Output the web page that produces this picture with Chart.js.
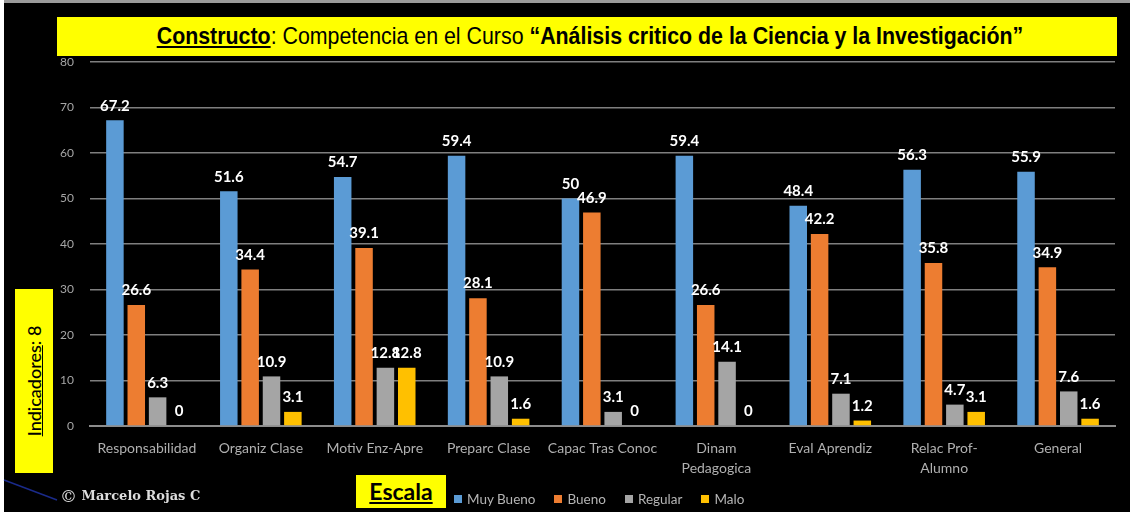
<!DOCTYPE html>
<html lang="es">
<head>
  <meta charset="UTF-8" />
  <title>Competencia en el Curso</title>
  <script src="https://cdn.jsdelivr.net/npm/chart.js"></script>
  <style>
    html, body { margin: 0; padding: 0; background: #000; }
    body { width: 1130px; height: 512px; position: relative; overflow: hidden; }
    #frameTop { position: absolute; left: 0; top: 0; width: 1130px; height: 3px; background: #9a9a9a; }
    #frameLeft { position: absolute; left: 0; top: 0; width: 4px; height: 512px; background: #fff; }
    #chartBox { position: absolute; left: 0; top: 0; width: 1130px; height: 512px; }
    .yellow { position: absolute; background: #ffff00; color: #000; }
    #titulo { left: 57px; top: 17px; width: 1060px; height: 39px; }
    #titulo span {
      position: absolute; left: 533px; top: 19px; white-space: nowrap;
      transform: translate(-50%, -50%) scaleX(0.89);
      font-family: 'Liberation Sans', Arial, sans-serif; font-size: 24px;
    }
    #titulo b.u { text-decoration: underline; }
    #indicadores { left: 15px; top: 289px; width: 38px; height: 184px; }
    #indicadores span {
      position: absolute; left: 19px; top: 92px; white-space: nowrap;
      transform: translate(-50%, -50%) rotate(-90deg);
      font-family: Lato, 'Open Sans', sans-serif; font-size: 18px; font-weight: 500;
    }
    #escala {
      left: 356px; top: 475px; width: 90px; height: 33px;
      font-family: Lato, 'Open Sans', sans-serif; font-weight: bold; font-size: 23px;
      text-align: center; line-height: 33px; text-decoration: underline;
    }
    #autor {
      position: absolute; left: 60px; top: 486px; color: #ddd;
      font-family: 'DejaVu Serif', 'Liberation Serif', serif; font-weight: bold; font-size: 13px;
    }
    #autor .c { font-size: 17px; font-weight: normal; vertical-align: -2px; }
    #leyenda {
      position: absolute; left: 454px; top: 491px; display: flex; gap: 19px;
      font-family: Lato, 'Open Sans', sans-serif; font-size: 13.5px; color: #b5b5b5;
    }
    #leyenda div { display: flex; align-items: center; }
    #leyenda i { display: inline-block; width: 8px; height: 8px; margin-right: 5px; }
    #raya { position: absolute; left: 0; top: 0; }
  </style>
</head>
<body>
  <div id="frameTop"></div>
  <div id="frameLeft"></div>
  <div id="chartBox"><canvas id="grafico" width="1130" height="512"></canvas></div>
  <div class="yellow" id="titulo"><span><b class="u">Constructo</b>: Competencia en el Curso <b>“Análisis critico de la Ciencia y la Investigación”</b></span></div>
  <div class="yellow" id="indicadores"><span><u>Indicadores</u>: 8</span></div>
  <div class="yellow" id="escala">Escala</div>
  <div id="autor"><span class="c">©</span> Marcelo Rojas C</div>
  <div id="leyenda"></div>
  <svg id="raya" width="70" height="512"><line x1="4" y1="480" x2="57" y2="500" stroke="#1a2a8a" stroke-width="1.5" /></svg>

  <script>
    const indicadores = ['Responsabilidad', 'Organiz Clase', 'Motiv Enz-Apre', 'Preparc Clase', 'Capac Tras Conoc',
      ['Dinam', 'Pedagogica'], 'Eval Aprendiz', ['Relac Prof-', 'Alumno'], 'General'];
    const escalas = ['Muy Bueno', 'Bueno', 'Regular', 'Malo'];
    const colores = ['#5b9bd5', '#ed7d31', '#a5a5a5', '#ffc000'];

    const muyBueno = [67.2, 51.6, 54.7, 59.4, 50, 59.4, 48.4, 56.3, 55.9];
    const bueno    = [26.6, 34.4, 39.1, 28.1, 46.9, 26.6, 42.2, 35.8, 34.9];
    const regular  = [6.3, 10.9, 12.8, 10.9, 3.1, 14.1, 7.1, 4.7, 7.6];
    const malo     = [0, 3.1, 12.8, 1.6, 0, 0, 1.2, 3.1, 1.6];
    const series = [muyBueno, bueno, regular, malo];

    const yTicks = [0, 10, 20, 30, 40, 50, 60, 70, 80];

    // numeric labels above every bar
    const etiquetas = {
      id: 'etiquetas',
      afterDatasetsDraw(chart) {
        const ctx = chart.ctx;
        ctx.save();
        ctx.fillStyle = '#fff';
        ctx.font = 'bold 15px Lato, sans-serif';
        ctx.textAlign = 'center';
        ctx.textBaseline = 'bottom';
        chart.data.datasets.forEach((ds, i) => {
          chart.getDatasetMeta(i).data.forEach((bar, j) => {
            ctx.fillText(String(ds.data[j]), bar.x, bar.y - 7);
          });
        });
        ctx.restore();
      }
    };

    new Chart(document.getElementById('grafico'), {
      type: 'bar',
      data: {
        labels: indicadores,
        datasets: series.map((d, i) => ({
          label: escalas[i],
          data: d,
          backgroundColor: colores[i],
          categoryPercentage: 0.75,
          barPercentage: 0.82
        }))
      },
      options: {
        responsive: false,
        animation: false,
        layout: { padding: { left: 40, right: 15, top: 62, bottom: 0 } },
        plugins: { legend: { display: false }, tooltip: { enabled: false } },
        scales: {
          x: {
            afterFit(s) { s.height = 86; },
            grid: { display: false },
            border: { color: '#8c8c8c', width: 2 },
            ticks: {
              color: '#b0b0b0', padding: 4, maxRotation: 0, autoSkip: false,
              font: { family: 'Lato, sans-serif', size: 14, lineHeight: 1.45 }
            }
          },
          y: {
            min: 0, max: 80,
            afterFit(s) { s.width = 50; },
            afterBuildTicks(s) { s.ticks = yTicks.map(v => ({ value: v })); },
            grid: { color: '#7f7f7f', lineWidth: 1.5, drawTicks: false },
            border: { display: false },
            ticks: {
              color: '#a6a6a6', padding: 16,
              font: { family: 'Lato, sans-serif', size: 12 }
            }
          }
        }
      },
      plugins: [etiquetas]
    });

    const leyenda = document.getElementById('leyenda');
    escalas.forEach((n, i) => {
      const item = document.createElement('div');
      item.innerHTML = '<i style="background:' + colores[i] + '"></i>' + n;
      leyenda.appendChild(item);
    });
  </script>
</body>
</html>
